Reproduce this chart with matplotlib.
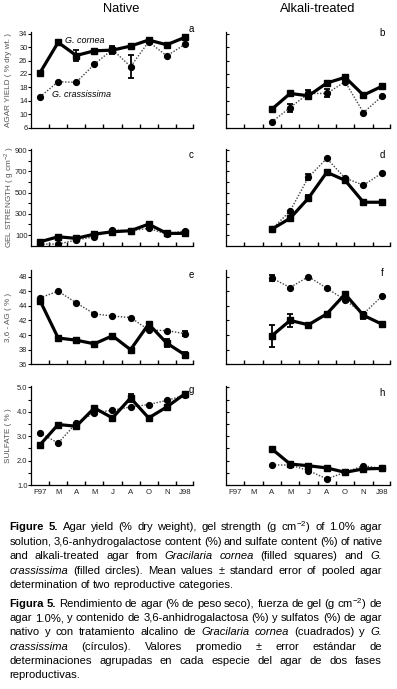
import numpy as np
import matplotlib
matplotlib.use('Agg')
import matplotlib.pyplot as plt

plt.rcParams['font.family'] = ['Liberation Sans', 'DejaVu Sans']
plt.rcParams['mathtext.fontset'] = 'custom'
plt.rcParams['mathtext.rm'] = 'Liberation Sans'

nan = np.nan
months = ['F97', 'M', 'A', 'M', 'J', 'A', 'O', 'N', 'J98']

# Agar yield (% dry wt.)
yield_nat_cornea = [22.4, 31.4, 27.5, 28.9, 29.1, 30.3, 32.1, 30.7, 32.9]
yield_nat_crass = [15.2, 19.7, 19.5, 24.9, 29.3, 24.2, 31.6, 27.4, 30.8]
yield_alk_cornea = [nan, nan, 11.5, 16.2, 15.5, 19.3, 21.0, 15.7, 18.3]
yield_alk_crass = [nan, nan, 7.7, 12.0, 16.2, 16.2, 19.7, 10.5, 15.3]
yield_nat_cornea_se = [0, 0, 1.5, 0, 1.1, 0, 0, 0, 0]
yield_nat_crass_se = [0, 0, 0, 0, 0, 3.5, 0, 0, 0]
yield_alk_cornea_se = [0, 0, 0, 0, 0, 0, 0, 0, 0]
yield_alk_crass_se = [0, 0, 0, 1.2, 1.1, 1.2, 0, 0, 0]

# Gel strength (g cm-2)
gel_nat_cornea = [37, 84, 69, 109, 131, 141, 203, 116, 116]
gel_nat_crass = [15, 15, 53, 84, 147, 141, 163, 109, 141]
gel_alk_cornea = [nan, nan, 155, 258, 448, 691, 615, 409, 409]
gel_alk_crass = [nan, nan, 155, 327, 645, 821, 636, 570, 682]
gel_nat_cornea_se = [0, 0, 0, 0, 0, 0, 15, 0, 0]
gel_nat_crass_se = [0, 0, 0, 0, 0, 0, 0, 0, 0]
gel_alk_cornea_se = [0, 0, 0, 0, 25, 0, 0, 0, 0]
gel_alk_crass_se = [0, 0, 0, 0, 30, 0, 0, 0, 0]

# 3,6-AG (%)
ag_nat_cornea = [44.7, 39.6, 39.3, 38.8, 39.9, 38.0, 41.5, 38.9, 37.3]
ag_nat_crass = [45.1, 46.0, 44.4, 42.9, 42.6, 42.4, 40.7, 40.6, 40.2]
ag_alk_cornea = [nan, nan, 39.9, 42.0, 41.4, 42.9, 45.6, 42.7, 41.5]
ag_alk_crass = [nan, nan, 47.8, 46.5, 48.0, 46.4, 44.8, 42.9, 45.3]
ag_nat_cornea_se = [0, 0, 0, 0, 0, 0, 0, 0.5, 0.4]
ag_nat_crass_se = [0, 0, 0, 0, 0, 0, 0, 0, 0.35]
ag_alk_cornea_se = [0, 0, 1.5, 0.9, 0, 0, 0, 0.5, 0]
ag_alk_crass_se = [0, 0, 0.45, 0, 0, 0, 0, 0, 0]

# Sulfate (%)
sulf_nat_cornea = [2.65, 3.48, 3.41, 4.16, 3.75, 4.57, 3.75, 4.2, 4.74]
sulf_nat_crass = [3.13, 2.72, 3.54, 3.96, 4.07, 4.2, 4.3, 4.47, 4.68]
sulf_alk_cornea = [nan, nan, 2.48, 1.86, 1.79, 1.70, 1.52, 1.66, 1.68]
sulf_alk_crass = [nan, nan, 1.82, 1.82, 1.59, 1.25, 1.52, 1.79, 1.68]
sulf_nat_cornea_se = [0, 0, 0, 0, 0.1, 0.15, 0, 0, 0]
sulf_nat_crass_se = [0, 0, 0, 0, 0, 0, 0, 0, 0]
sulf_alk_cornea_se = [0, 0, 0, 0, 0, 0, 0, 0, 0]
sulf_alk_crass_se = [0, 0, 0, 0, 0, 0, 0, 0, 0]

W, H = 397, 689
fig = plt.figure(figsize=(W / 100, H / 100), dpi=100)

x = np.arange(len(months))
cols = [(31, 193), (226, 390)]
rows = [(32, 127.7), (149, 245.7), (270, 364.3), (386, 485)]

panels = [
    # ylim, yticks, labelled ticks, ylabel
    ((6, 34.5), np.arange(6, 35, 4), list(range(6, 35, 4)), 'AGAR YIELD ( % dry wt. )'),
    ((0, 910), np.arange(100, 901, 100), [100, 300, 500, 700, 900], 'GEL STRENGTH ( g cm$^{-2}$ )'),
    ((36, 48.9), np.arange(36, 49, 2), list(range(36, 49, 2)), '3,6 - AG ( % )'),
    ((1.0, 5.06), np.arange(1.0, 5.01, 0.5), [1.0, 2.0, 3.0, 4.0, 5.0], 'SULFATE ( % )'),
]

series = [
    [(yield_nat_cornea, yield_nat_cornea_se, yield_nat_crass, yield_nat_crass_se),
     (yield_alk_cornea, yield_alk_cornea_se, yield_alk_crass, yield_alk_crass_se)],
    [(gel_nat_cornea, gel_nat_cornea_se, gel_nat_crass, gel_nat_crass_se),
     (gel_alk_cornea, gel_alk_cornea_se, gel_alk_crass, gel_alk_crass_se)],
    [(ag_nat_cornea, ag_nat_cornea_se, ag_nat_crass, ag_nat_crass_se),
     (ag_alk_cornea, ag_alk_cornea_se, ag_alk_crass, ag_alk_crass_se)],
    [(sulf_nat_cornea, sulf_nat_cornea_se, sulf_nat_crass, sulf_nat_crass_se),
     (sulf_alk_cornea, sulf_alk_cornea_se, sulf_alk_crass, sulf_alk_crass_se)],
]

letters = [['a', 'b'], ['c', 'd'], ['e', 'f'], ['g', 'h']]
letter_pos = [[(191, 29), (382, 33)], [(191, 155), (382, 155)],
              [(191, 275), (382, 273)], [(191, 390), (382, 393)]]

axes = {}
for r, (ylim, yticks, ylab_ticks, ylabel) in enumerate(panels):
    top, bot = rows[r]
    for c in range(2):
        left, right = cols[c]
        ax = fig.add_axes([left / W, 1 - bot / H, (right - left) / W, (bot - top) / H])
        axes[(r, c)] = ax
        cor, cor_se, cra, cra_se = series[r][c]
        cor = np.array(cor, float)
        cra = np.array(cra, float)
        cor_se = np.array(cor_se, float)
        cra_se = np.array(cra_se, float)

        ax.plot(x, cra, color='#444444', lw=1.0, linestyle=(0, (1, 1.2)),
                marker='o', ms=4.2, mfc='black', mec='black', zorder=3)
        ax.plot(x, cor, color='black', lw=2.3, marker='s', ms=4.5,
                mfc='black', mec='black', zorder=4)
        m = cra_se > 0
        if m.any():
            ax.errorbar(x[m], cra[m], yerr=cra_se[m], fmt='none', ecolor='black',
                        elinewidth=1.3, capsize=2.2, capthick=1.3, zorder=5)
        m = cor_se > 0
        if m.any():
            ax.errorbar(x[m], cor[m], yerr=cor_se[m], fmt='none', ecolor='black',
                        elinewidth=1.3, capsize=2.2, capthick=1.3, zorder=5)

        ax.set_xlim(-0.5, 8.45)
        ax.set_ylim(*ylim)
        for s in ['top', 'right']:
            ax.spines[s].set_visible(False)
        for s in ['left', 'bottom']:
            ax.spines[s].set_linewidth(0.9)
        ax.set_xticks(list(np.arange(0.5, 8, 1.0)) + [8.45])
        ax.set_xticklabels([])
        ax.tick_params(axis='x', which='major', direction='in', length=3, width=1.0)
        if r == 3:
            ax.set_xticks(x, minor=True)
            ax.set_xticklabels(months, minor=True, fontsize=5.6, color='#222222')
            ax.tick_params(axis='x', which='minor', length=0, pad=3)
        ax.set_yticks(yticks)
        if c == 0:
            ax.set_yticklabels([('%g' % t if r != 3 else '%.1f' % t) if t in ylab_ticks else ''
                                for t in yticks], fontsize=5.4, color='#222222')
            ax.tick_params(axis='y', direction='out', length=2, width=0.8, pad=0.5)
        else:
            ax.set_yticklabels([])
            ax.tick_params(axis='y', direction='in', length=2.5, width=0.8)
        ax.set_facecolor('none')

        lx, ly = letter_pos[r][c]
        fig.text(lx / W, 1 - ly / H, letters[r][c], fontsize=7, ha='center', va='center')

    fig.text(9 / W, 1 - (top + bot) / 2 / H, ylabel, rotation=90, fontsize=5.9,
             color='#555555', ha='center', va='center')

ax = axes[(0, 0)]
ax.text(1.38, 31.9, 'G. cornea', fontsize=6.5, style='italic', va='center')
ax.text(0.66, 16.0, 'G. crassissima', fontsize=6.5, style='italic', va='center')

fig.text(121 / W, 1 - 8.5 / H, 'Native', fontsize=9.3, ha='center', va='center')
fig.text(318 / W, 1 - 8.5 / H, 'Alkali-treated', fontsize=9.3, ha='center', va='center')

# caption, justified word by word
renderer = fig.canvas.get_renderer()
cap_left, cap_right = 9.5, 382
B = {'fontweight': 'bold'}
I = {'style': 'italic'}
N = {}


def caption_line(parts, y, justify=True):
    words = []
    for txt, kw in parts:
        for w in txt.split(' '):
            if w:
                words.append((w, kw))
    objs = [fig.text(0, 1 - y / H, w, fontsize=8.1, ha='left', va='center', **kw)
            for w, kw in words]
    widths = [o.get_window_extent(renderer).width for o in objs]
    if justify and len(objs) > 1:
        gap = (cap_right - cap_left - sum(widths)) / (len(objs) - 1)
    else:
        gap = 3.0
    xp = cap_left
    for o, w in zip(objs, widths):
        o.set_x(xp / W)
        xp += w + gap


eng = [
    [('Figure 5.', B), ('Agar yield (% dry weight), gel strength (g cm$^{-2}$) of 1.0% agar', N)],
    [('solution, 3,6-anhydrogalactose content (%) and sulfate content (%) of native', N)],
    [('and alkali-treated agar from', N), ('Gracilaria cornea', I), ('(filled squares) and', N), ('G.', I)],
    [('crassissima', I), ('(filled circles). Mean values \u00b1 standard error of pooled agar', N)],
    [('determination of two reproductive categories.', N)],
]
spa = [
    [('Figura 5.', B), ('Rendimiento de agar (% de peso seco), fuerza de gel (g cm$^{-2}$) de', N)],
    [('agar 1.0%, y contenido de 3,6-anhidrogalactosa (%) y sulfatos (%) de agar', N)],
    [('nativo y con tratamiento alcalino de', N), ('Gracilaria cornea', I), ('(cuadrados) y', N), ('G.', I)],
    [('crassissima', I), ('(c\u00edrculos). Valores promedio \u00b1 error est\u00e1ndar de', N)],
    [('determinaciones agrupadas en cada especie del agar de dos fases', N)],
    [('reproductivas.', N)],
]

for i, parts in enumerate(eng):
    caption_line(parts, 527 + 14.6 * i, justify=(i < len(eng) - 1))
for i, parts in enumerate(spa):
    caption_line(parts, 604 + 14.2 * i, justify=(i < len(spa) - 1))

fig.savefig('out.png', dpi=100)
